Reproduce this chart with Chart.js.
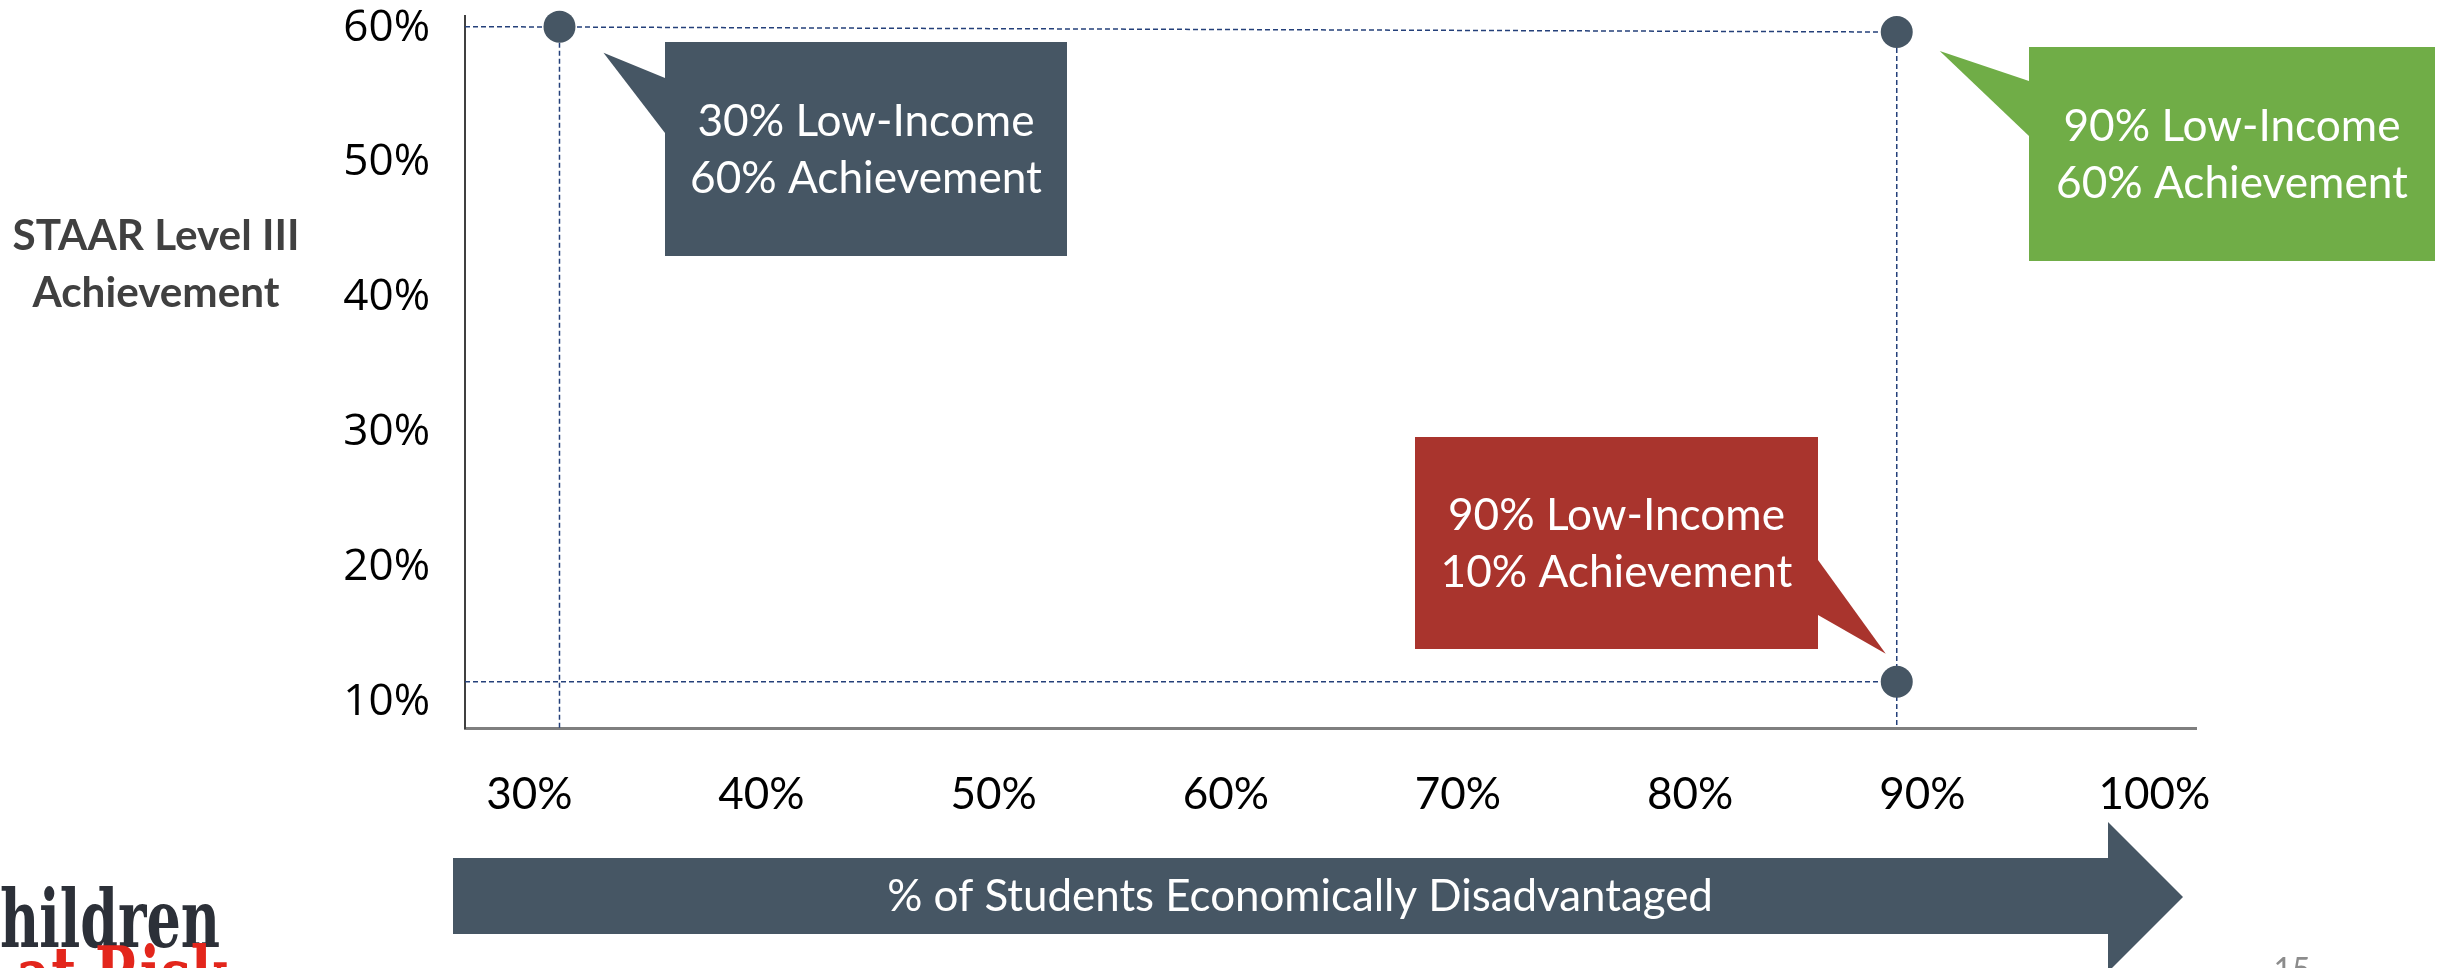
<!DOCTYPE html>
<html>
<head>
<meta charset="utf-8">
<title>STAAR Level III Achievement vs % Economically Disadvantaged</title>
<script src="https://cdn.jsdelivr.net/npm/chart.js@4.4.1/dist/chart.umd.min.js"></script>
<style>
  html, body { margin: 0; padding: 0; background: #fff; overflow: hidden; }
</style>
</head>
<body>
<canvas id="scatterChart" width="2447" height="968"></canvas>
<script>
// three example schools: % low-income (x) and % Level III achievement (y)
const lowIncome = [31.3, 88.9, 88.9];
const achievement = [60.1, 59.7, 11.5];
const calloutText = [
    ['30% Low-Income', '60% Achievement'],
    ['90% Low-Income', '60% Achievement'],
    ['90% Low-Income', '10% Achievement']
];
const xTicks = [30, 40, 50, 60, 70, 80, 90, 100];
const yTicks = [10, 20, 30, 40, 50, 60];
const yTitle = ['STAAR Level III', 'Achievement'];
const xTitle = '% of Students Economically Disadvantaged';

// axis ranges as on the slide
const xMin = 27.23, xMax = 101.79;
const yMin = 8.07, yMax = 60.89;

const slate = '#465664';
const guideColor = '#24407A';

// callout boxes (pixels), tail tip is offset from its data point
const boxes = [
    { color: slate, x0: 665, x1: 1067, y0: 42, y1: 256, side: 'left', b0: 78, b1: 133, tip: [44, 26] },
    { color: '#70AD47', x0: 2029, x1: 2435, y0: 47, y1: 261, side: 'left', b0: 81, b1: 136, tip: [43, 19] },
    { color: '#A9342D', x0: 1415, x1: 1818, y0: 437, y1: 649, side: 'right', b0: 560, b1: 615, tip: [-11, -28] }
];

const points = lowIncome.map((x, i) => ({ x: x, y: achievement[i] }));

// dashed drop lines from the points to the axes
const guides = [
    [{ x: xMin, y: achievement[0] }, { x: lowIncome[1], y: achievement[1] }],
    [{ x: lowIncome[0], y: achievement[0] }, { x: lowIncome[0], y: yMin }],
    [{ x: lowIncome[1], y: achievement[1] }, { x: lowIncome[1], y: yMin }],
    [{ x: xMin, y: achievement[2] }, { x: lowIncome[2], y: achievement[2] }]
];

function fitFont(ctx, text, width, weight, family) {
    ctx.font = weight + ' 100px ' + family;
    return 100 * width / ctx.measureText(text).width;
}

const slideDecor = {
    id: 'slideDecor',
    afterDraw(chart) {
        const ctx = chart.ctx;
        const xs = chart.scales.x, ys = chart.scales.y;
        ctx.save();

        // y axis title, two lines, horizontal
        const tfs = fitFont(ctx, yTitle[0], 287, 'bold', 'Lato');
        ctx.font = 'bold ' + tfs + 'px Lato';
        ctx.fillStyle = '#404040';
        ctx.textAlign = 'center';
        ctx.textBaseline = 'middle';
        ctx.fillText(yTitle[0], 156, 236);
        ctx.fillText(yTitle[1], 156, 293);

        // callouts
        const cfs = fitFont(ctx, '10% Achievement', 352, 'normal', 'Lato');
        boxes.forEach((b, i) => {
            const px = xs.getPixelForValue(lowIncome[i]);
            const py = ys.getPixelForValue(achievement[i]);
            const tx = px + b.tip[0], ty = py + b.tip[1];
            const ex = b.side === 'left' ? b.x0 : b.x1;
            ctx.fillStyle = b.color;
            ctx.fillRect(b.x0, b.y0, b.x1 - b.x0, b.y1 - b.y0);
            ctx.beginPath();
            ctx.moveTo(ex, b.b0);
            ctx.lineTo(tx, ty);
            ctx.lineTo(ex, b.b1);
            ctx.closePath();
            ctx.fill();
            ctx.fillStyle = '#ffffff';
            ctx.font = cfs + 'px Lato';
            const cx = (b.x0 + b.x1) / 2, cy = (b.y0 + b.y1) / 2;
            ctx.fillText(calloutText[i][0], cx, cy - 27);
            ctx.fillText(calloutText[i][1], cx, cy + 30);
        });

        // block arrow with x axis title
        ctx.fillStyle = slate;
        ctx.beginPath();
        ctx.moveTo(453, 858);
        ctx.lineTo(2108, 858);
        ctx.lineTo(2108, 822);
        ctx.lineTo(2183, 897);
        ctx.lineTo(2108, 972);
        ctx.lineTo(2108, 934);
        ctx.lineTo(453, 934);
        ctx.closePath();
        ctx.fill();
        const afs = fitFont(ctx, xTitle, 826, 'normal', 'Lato');
        ctx.font = afs + 'px Lato';
        ctx.fillStyle = '#ffffff';
        ctx.fillText(xTitle, 1300, 897);

        // logo, cut off at the slide edge
        ctx.font = 'bold 100px "DejaVu Serif"';
        const wh = ctx.measureText('hildren').width;
        const wc = ctx.measureText('C').width;
        const sx = 220 / wh;
        ctx.save();
        ctx.translate(0, 947);
        ctx.scale(sx, sx * 1.5);
        ctx.textAlign = 'left';
        ctx.textBaseline = 'alphabetic';
        ctx.fillStyle = '#2C3038';
        ctx.fillText('Children', -wc, 0);
        ctx.fillStyle = '#E3261C';
        ctx.fillText('at Risk', 30, 70);
        ctx.restore();

        // page number
        ctx.font = '32px Lato';
        ctx.fillStyle = '#8C8C8C';
        ctx.textAlign = 'center';
        ctx.textBaseline = 'top';
        ctx.fillText('15', 2292, 955);

        ctx.restore();
    }
};

const guideSets = guides.map(g => ({
    type: 'line',
    data: g,
    showLine: true,
    borderColor: guideColor,
    borderWidth: 1.5,
    borderDash: [5, 3],
    pointRadius: 0,
    fill: false,
    clip: false,
    order: 2
}));

new Chart(document.getElementById('scatterChart').getContext('2d'), {
    type: 'scatter',
    data: {
        datasets: [
            {
                label: 'Schools',
                data: points,
                backgroundColor: slate,
                borderWidth: 0,
                pointRadius: 16,
                pointHoverRadius: 16,
                clip: false,
                order: 1
            }
        ].concat(guideSets)
    },
    options: {
        responsive: false,
        animation: false,
        events: [],
        layout: { padding: { left: 0, top: 16, right: 251, bottom: 0 } },
        scales: {
            x: {
                type: 'linear',
                min: xMin,
                max: xMax,
                afterFit: s => { s.height = 240; s.paddingLeft = 0; s.paddingRight = 0; },
                afterBuildTicks: s => { s.ticks = xTicks.map(v => ({ value: v })); },
                grid: { display: false, drawTicks: false },
                border: { display: true, color: '#7F7F7F', width: 3 },
                ticks: {
                    padding: 40,
                    color: '#000000',
                    font: { family: 'Lato', size: 44 },
                    maxRotation: 0,
                    autoSkip: false,
                    callback: v => v + '%'
                }
            },
            y: {
                type: 'linear',
                min: yMin,
                max: yMax,
                afterFit: s => { s.width = 465; s.paddingTop = 0; s.paddingBottom = 0; },
                afterBuildTicks: s => { s.ticks = yTicks.map(v => ({ value: v })); },
                grid: { display: false, drawTicks: false },
                border: { display: true, color: '#404040', width: 2 },
                ticks: {
                    padding: 35,
                    color: '#000000',
                    font: { family: 'Open Sans', size: 44 },
                    autoSkip: false,
                    callback: v => v + '%'
                }
            }
        },
        plugins: {
            legend: { display: false },
            tooltip: { enabled: false }
        }
    },
    plugins: [slideDecor]
});
</script>
</body>
</html>
